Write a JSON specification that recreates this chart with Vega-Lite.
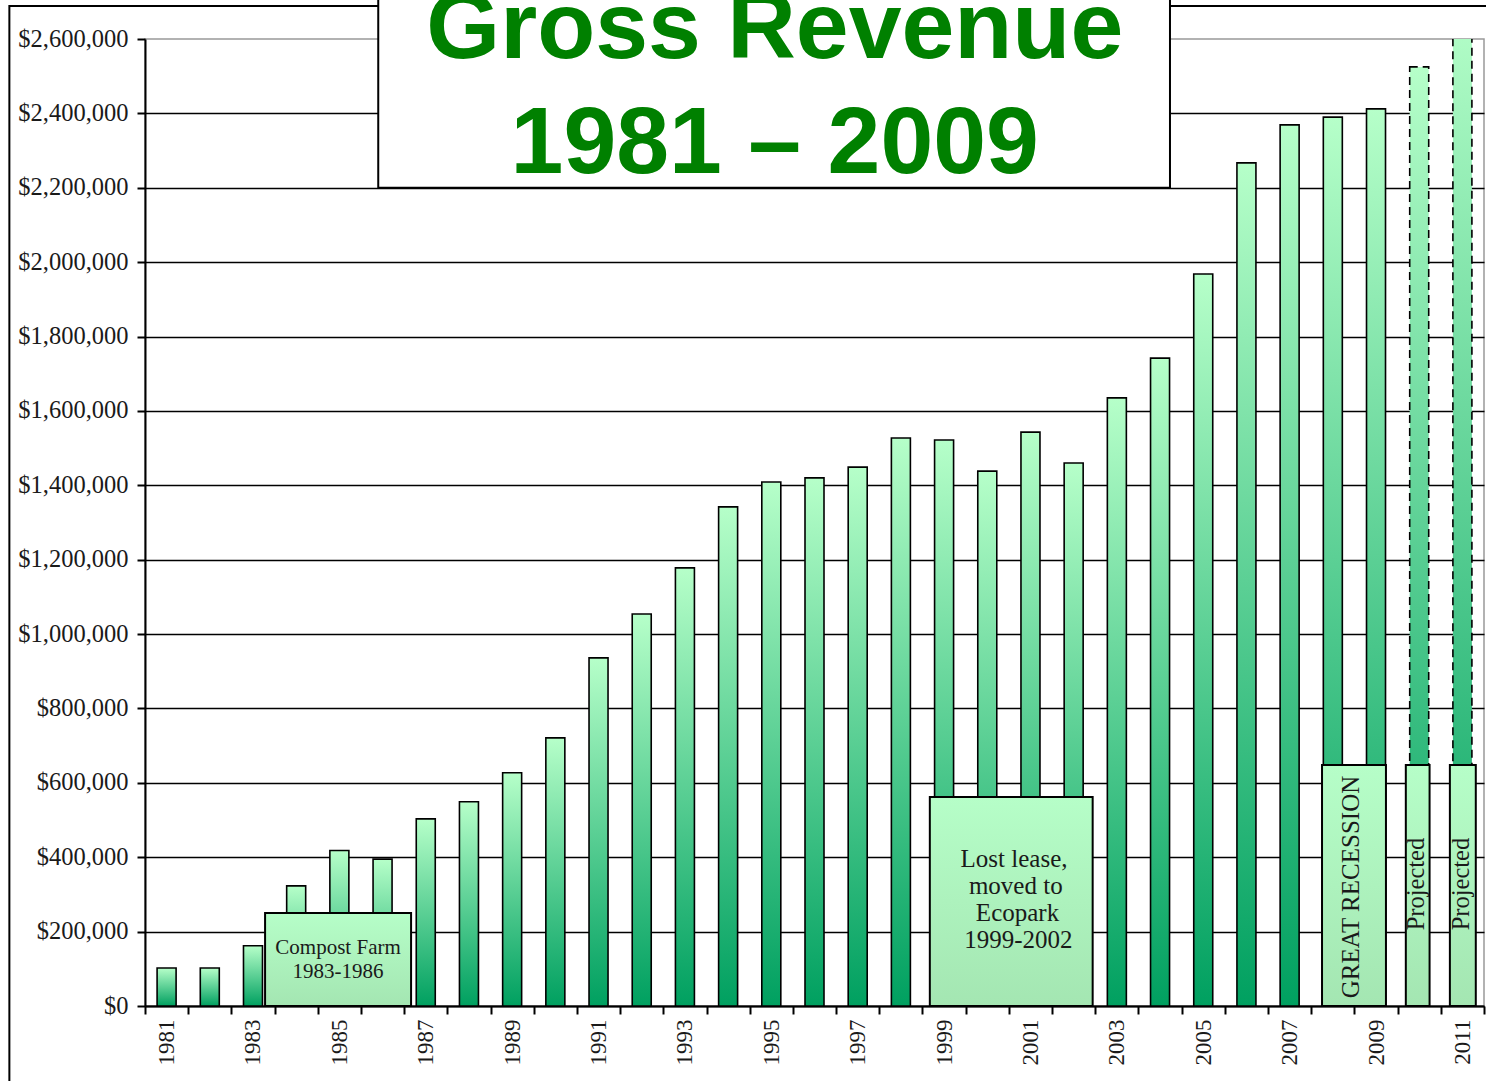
{
  "$schema": "https://vega.github.io/schema/vega-lite/v6.json",
  "autosize": "none",
  "width": 1339,
  "height": 967,
  "padding": {"left": 145, "top": 39, "right": 2, "bottom": 75},
  "background": "white",
  "config": {"view": {"stroke": "#999999", "strokeWidth": 1.5}},
  "datasets": {
    "rev": [
      {"year": 1981, "revenue": 102000, "proj": "no"},
      {"year": 1982, "revenue": 102000, "proj": "no"},
      {"year": 1983, "revenue": 162000, "proj": "no"},
      {"year": 1984, "revenue": 323000, "proj": "no"},
      {"year": 1985, "revenue": 418000, "proj": "no"},
      {"year": 1986, "revenue": 395000, "proj": "no"},
      {"year": 1987, "revenue": 503000, "proj": "no"},
      {"year": 1988, "revenue": 549000, "proj": "no"},
      {"year": 1989, "revenue": 627000, "proj": "no"},
      {"year": 1990, "revenue": 721000, "proj": "no"},
      {"year": 1991, "revenue": 936000, "proj": "no"},
      {"year": 1992, "revenue": 1054000, "proj": "no"},
      {"year": 1993, "revenue": 1178000, "proj": "no"},
      {"year": 1994, "revenue": 1342000, "proj": "no"},
      {"year": 1995, "revenue": 1409000, "proj": "no"},
      {"year": 1996, "revenue": 1420000, "proj": "no"},
      {"year": 1997, "revenue": 1449000, "proj": "no"},
      {"year": 1998, "revenue": 1527000, "proj": "no"},
      {"year": 1999, "revenue": 1522000, "proj": "no"},
      {"year": 2000, "revenue": 1438000, "proj": "no"},
      {"year": 2001, "revenue": 1543000, "proj": "no"},
      {"year": 2002, "revenue": 1460000, "proj": "no"},
      {"year": 2003, "revenue": 1635000, "proj": "no"},
      {"year": 2004, "revenue": 1742000, "proj": "no"},
      {"year": 2005, "revenue": 1968000, "proj": "no"},
      {"year": 2006, "revenue": 2267000, "proj": "no"},
      {"year": 2007, "revenue": 2369000, "proj": "no"},
      {"year": 2008, "revenue": 2390000, "proj": "no"},
      {"year": 2009, "revenue": 2412000, "proj": "no"},
      {"year": 2010, "revenue": 2525000, "proj": "yes"},
      {"year": 2011, "revenue": 2700000, "proj": "yes"}
    ],
    "boxes": [
      {"kind": "frame", "x1": 1977.36, "x2": 2013.5, "y1": -300000, "y2": 2689000},
      {"kind": "title", "x1": 1985.9, "x2": 2004.23, "y1": 2200000, "y2": 2800000},
      {"kind": "note", "x1": 1983.28, "x2": 1986.66, "y1": 0, "y2": 250000},
      {"kind": "note", "x1": 1998.67, "x2": 2002.44, "y1": 0, "y2": 562000},
      {"kind": "note", "x1": 2007.75, "x2": 2009.23, "y1": 0, "y2": 648000},
      {"kind": "note", "x1": 2009.69, "x2": 2010.24, "y1": 0, "y2": 648000},
      {"kind": "note", "x1": 2010.71, "x2": 2011.31, "y1": 0, "y2": 648000}
    ],
    "titles": [
      {"x": 1995.08, "y": 2549000, "text": "Gross Revenue"},
      {"x": 1995.08, "y": 2240000, "text": "1981 – 2009"}
    ],
    "notes": [
      {"x": 1984.97, "y": 156000, "text": "Compost Farm", "group": "compost"},
      {"x": 1984.97, "y": 91000, "text": "1983-1986", "group": "compost"},
      {"x": 2000.62, "y": 394000, "text": "Lost lease,", "group": "lease"},
      {"x": 2000.66, "y": 322000, "text": "moved to", "group": "lease"},
      {"x": 2000.7, "y": 250000, "text": "Ecopark", "group": "lease"},
      {"x": 2000.72, "y": 178000, "text": "1999-2002", "group": "lease"}
    ],
    "vnotes": [
      {"x": 2008.42, "y": 320000, "text": "GREAT RECESSION", "group": "recession"},
      {"x": 2009.94, "y": 328000, "text": "Projected", "group": "projected"},
      {"x": 2010.99, "y": 328000, "text": "Projected", "group": "projected"}
    ]
  },
  "resolve": {"scale": {"x": "independent"}},
  "layer": [
    {
      "data": {"name": "rev"},
      "mark": {
        "type": "bar",
        "clip": true,
        "width": {"band": 0.44},
        "stroke": "black",
        "strokeWidth": 1.6,
        "color": {
          "gradient": "linear", "x1": 0, "y1": 0, "x2": 0, "y2": 1,
          "stops": [
            {"offset": 0, "color": "#b6ffc9"},
            {"offset": 1, "color": "#00a060"}
          ]
        }
      },
      "encoding": {
        "x": {
          "field": "year", "type": "ordinal",
          "scale": {"paddingInner": 0, "paddingOuter": 0},
          "axis": {
            "title": null,
            "tickBand": "extent",
            "labelAngle": -90,
            "labelExpr": "datum.value % 2 == 1 ? datum.label : ''",
            "labelFont": "Liberation Serif",
            "labelFontSize": 23,
            "labelColor": "#1a1a1a",
            "labelPadding": 5,
            "tickSize": 8,
            "tickColor": "black",
            "tickWidth": 2,
            "domainColor": "black",
            "domainWidth": 2,
            "labelOverlap": false
          }
        },
        "y": {
          "field": "revenue", "type": "quantitative",
          "scale": {"domain": [0, 2600000], "nice": false},
          "axis": {
            "title": null,
            "values": [0, 100000, 200000, 300000, 400000, 500000, 600000, 700000, 800000, 900000, 1000000, 1100000, 1200000, 1300000, 1400000, 1500000, 1600000, 1700000, 1800000, 1900000, 2000000, 2100000, 2200000, 2300000, 2400000, 2500000, 2600000],
            "labelExpr": "datum.value % 200000 == 0 ? format(datum.value, '$,') : ''",
            "labelFont": "Liberation Serif",
            "labelFontSize": 24.5,
            "labelColor": "#1a1a1a",
            "labelPadding": 9,
            "labelFlush": false,
            "labelOverlap": false,
            "tickSize": {"condition": {"test": "datum.value % 200000 == 0", "value": 8}, "value": 4},
            "tickColor": "black",
            "tickWidth": 2,
            "domainColor": "black",
            "domainWidth": 2,
            "grid": true,
            "gridColor": "black",
            "gridWidth": 1.6,
            "gridOpacity": {"condition": {"test": "datum.value % 200000 == 0 && datum.value < 2600000", "value": 1}, "value": 0}
          }
        },
        "strokeDash": {
          "field": "proj", "type": "nominal",
          "scale": {"domain": ["no", "yes"], "range": [[1, 0], [8, 5]]},
          "legend": null
        }
      }
    },
    {
      "layer": [
        {
          "data": {"name": "boxes"},
          "transform": [{"filter": "datum.kind == 'frame'"}],
          "mark": {"type": "rect", "fill": null, "fillOpacity": 0, "stroke": "black", "strokeWidth": 2},
          "encoding": {
            "x": {"field": "x1", "type": "quantitative", "scale": {"domain": [1980.5, 2011.5], "nice": false, "zero": false}, "axis": null},
            "x2": {"field": "x2"},
            "y": {"field": "y1", "type": "quantitative"},
            "y2": {"field": "y2"}
          }
        },
        {
          "data": {"name": "boxes"},
          "transform": [{"filter": "datum.kind == 'title'"}],
          "mark": {"type": "rect", "fill": "white", "stroke": "black", "strokeWidth": 2},
          "encoding": {
            "x": {"field": "x1", "type": "quantitative", "scale": {"domain": [1980.5, 2011.5], "nice": false, "zero": false}, "axis": null},
            "x2": {"field": "x2"},
            "y": {"field": "y1", "type": "quantitative"},
            "y2": {"field": "y2"}
          }
        },
        {
          "data": {"name": "titles"},
          "mark": {"type": "text", "font": "Liberation Sans", "fontWeight": "bold", "fontSize": 95, "color": "#008000", "align": "center", "baseline": "alphabetic"},
          "encoding": {
            "x": {"field": "x", "type": "quantitative", "axis": null},
            "y": {"field": "y", "type": "quantitative"},
            "text": {"field": "text"}
          }
        },
        {
          "data": {"name": "boxes"},
          "transform": [{"filter": "datum.kind == 'note'"}],
          "mark": {
            "type": "rect", "stroke": "black", "strokeWidth": 2,
            "fill": {
              "gradient": "linear", "x1": 0, "y1": 0, "x2": 0, "y2": 1,
              "stops": [
                {"offset": 0, "color": "#b6fec8"},
                {"offset": 1, "color": "#a4e6b2"}
              ]
            }
          },
          "encoding": {
            "x": {"field": "x1", "type": "quantitative", "axis": null},
            "x2": {"field": "x2"},
            "y": {"field": "y1", "type": "quantitative"},
            "y2": {"field": "y2"}
          }
        },
        {
          "data": {"name": "notes"},
          "transform": [{"filter": "datum.group == 'compost'"}],
          "mark": {"type": "text", "font": "Liberation Serif", "fontSize": 21, "color": "#1a1a1a", "align": "center", "baseline": "middle"},
          "encoding": {
            "x": {"field": "x", "type": "quantitative", "axis": null},
            "y": {"field": "y", "type": "quantitative"},
            "text": {"field": "text"}
          }
        },
        {
          "data": {"name": "notes"},
          "transform": [{"filter": "datum.group == 'lease'"}],
          "mark": {"type": "text", "font": "Liberation Serif", "fontSize": 25, "color": "#1a1a1a", "align": "center", "baseline": "middle"},
          "encoding": {
            "x": {"field": "x", "type": "quantitative", "axis": null},
            "y": {"field": "y", "type": "quantitative"},
            "text": {"field": "text"}
          }
        },
        {
          "data": {"name": "vnotes"},
          "transform": [{"filter": "datum.group == 'recession'"}],
          "mark": {"type": "text", "font": "Liberation Serif", "fontSize": 25, "color": "#1a1a1a", "align": "center", "baseline": "middle", "angle": 270},
          "encoding": {
            "x": {"field": "x", "type": "quantitative", "axis": null},
            "y": {"field": "y", "type": "quantitative"},
            "text": {"field": "text"}
          }
        },
        {
          "data": {"name": "vnotes"},
          "transform": [{"filter": "datum.group == 'projected'"}],
          "mark": {"type": "text", "font": "Liberation Serif", "fontSize": 24.5, "color": "#1a1a1a", "align": "center", "baseline": "middle", "angle": 270},
          "encoding": {
            "x": {"field": "x", "type": "quantitative", "axis": null},
            "y": {"field": "y", "type": "quantitative"},
            "text": {"field": "text"}
          }
        }
      ]
    }
  ]
}
